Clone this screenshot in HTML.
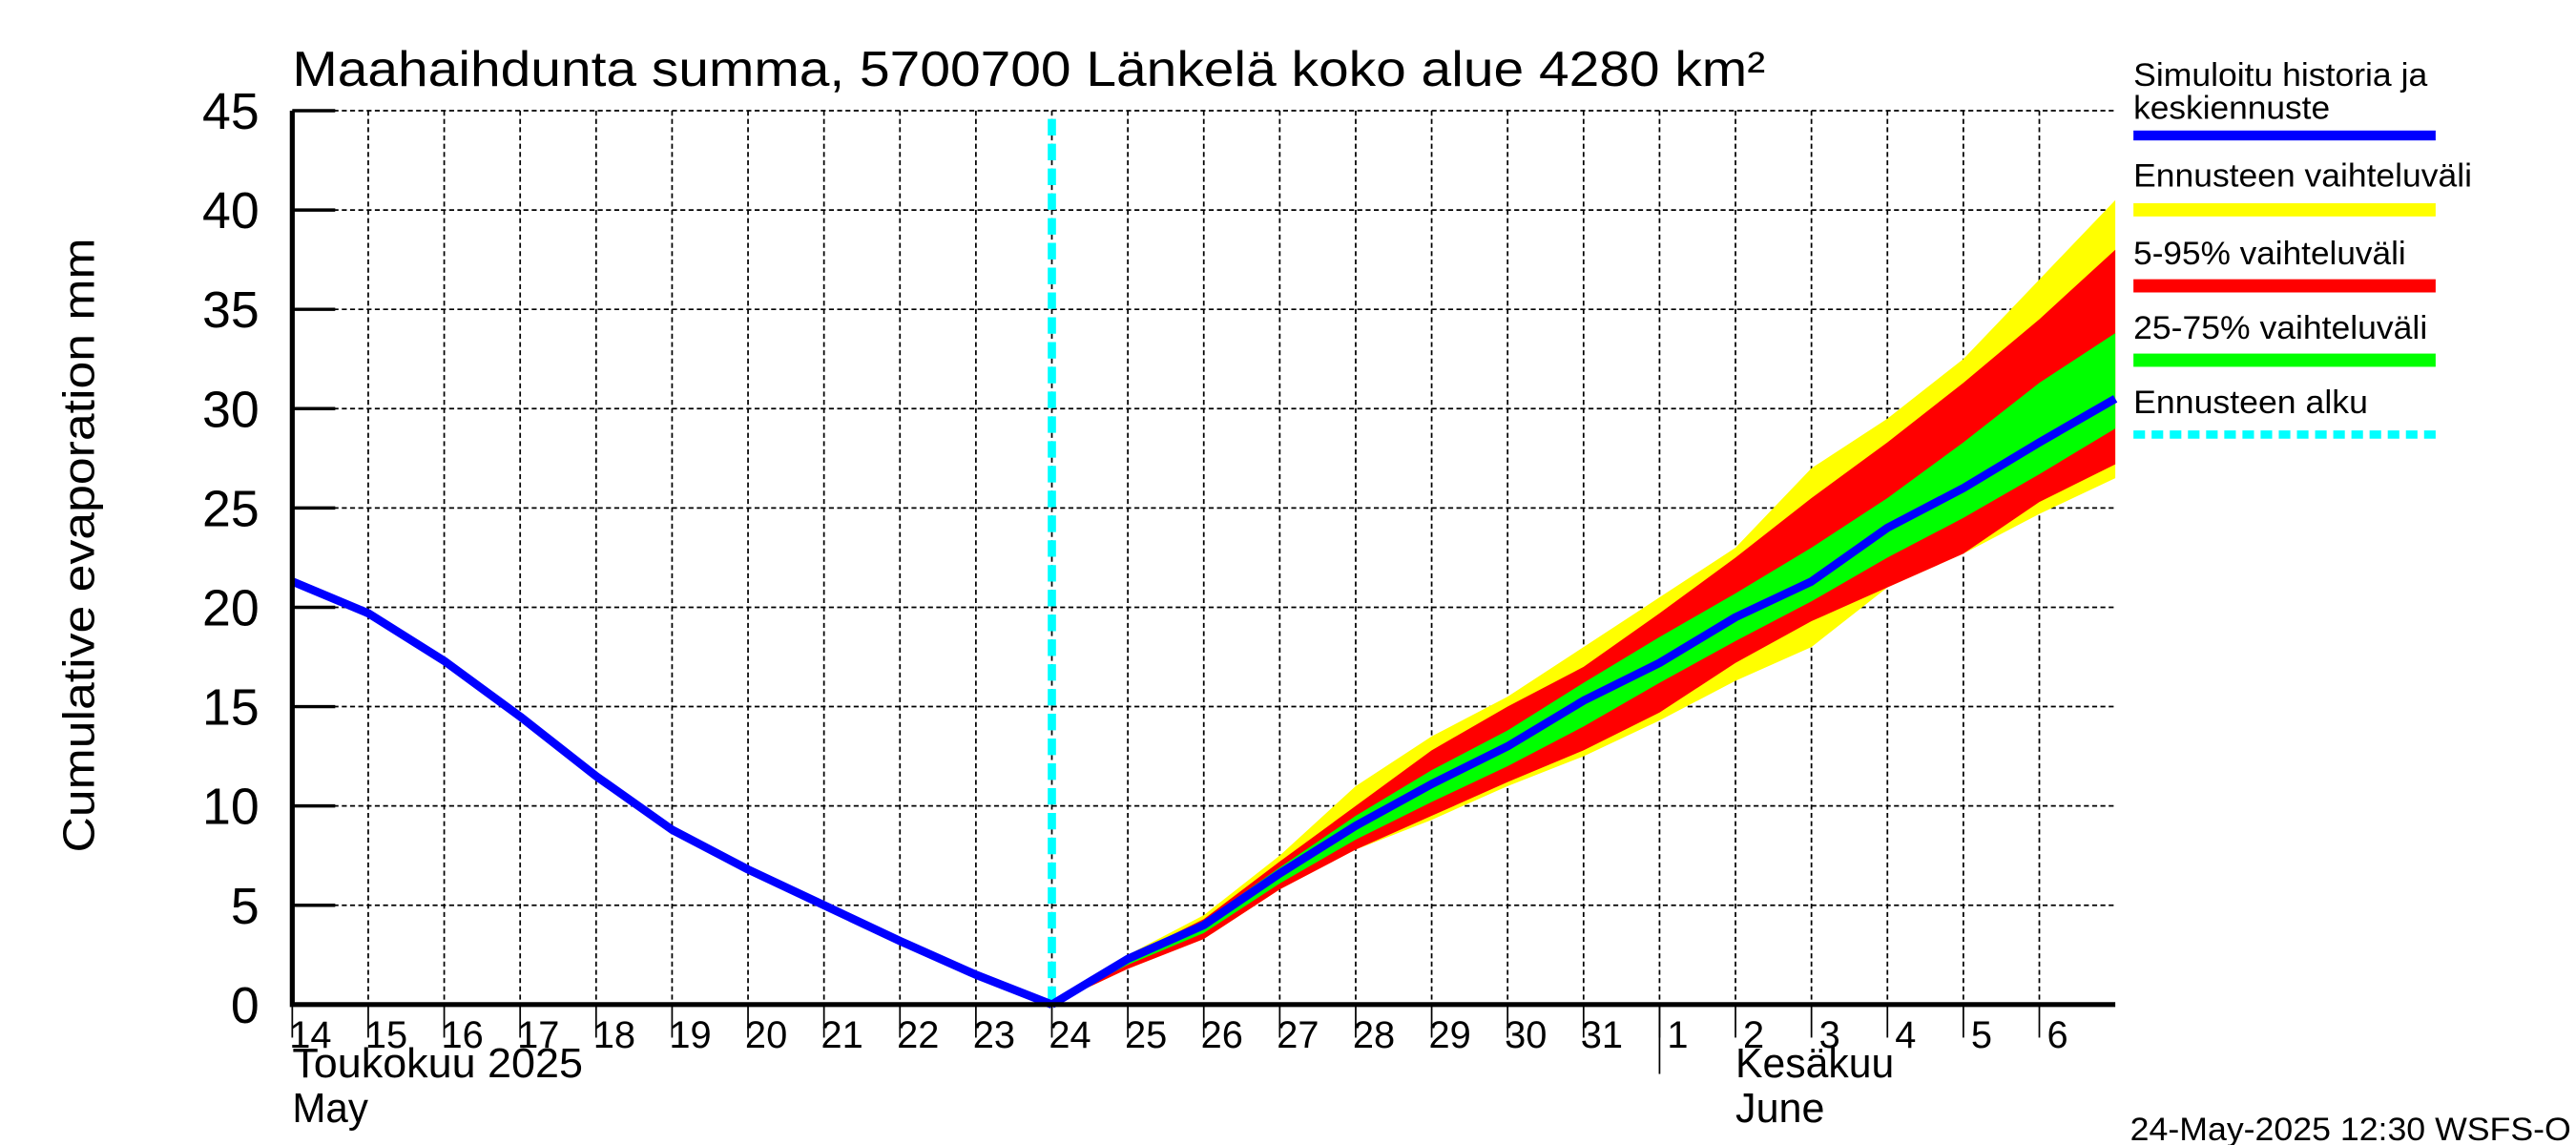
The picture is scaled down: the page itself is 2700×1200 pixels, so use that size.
<!DOCTYPE html>
<html><head><meta charset="utf-8"><style>
html,body{margin:0;padding:0;background:#fff;overflow:hidden}
svg{display:block}
text{font-family:"Liberation Sans",sans-serif;fill:#000}
</style></head><body>
<svg id="chart" width="2700" height="1200" viewBox="0 0 1560 693" preserveAspectRatio="none" xmlns="http://www.w3.org/2000/svg">
<text x="177" y="52" font-size="30" textLength="892" lengthAdjust="spacingAndGlyphs">Maahaihdunta summa, 5700700 Länkelä koko alue 4280 km²</text>
<text transform="translate(57,330) rotate(-90)" text-anchor="middle" font-size="27" textLength="372" lengthAdjust="spacingAndGlyphs">Cumulative evaporation   mm</text>
<g id="grid"></g>
<g id="bands"></g>
<g id="lines"></g>
<g id="axes"></g>
<g>
<text x="1292" y="52" font-size="20" textLength="178" lengthAdjust="spacingAndGlyphs">Simuloitu historia ja</text>
<text x="1292" y="72" font-size="20" textLength="119" lengthAdjust="spacingAndGlyphs">keskiennuste</text>
<rect x="1292" y="79" width="183" height="6" fill="#0000ff"/>
<text x="1292" y="113" font-size="20" textLength="205" lengthAdjust="spacingAndGlyphs">Ennusteen vaihteluväli</text>
<rect x="1292" y="123" width="183" height="8" fill="#ffff00"/>
<text x="1292" y="160" font-size="20" textLength="165" lengthAdjust="spacingAndGlyphs">5-95% vaihteluväli</text>
<rect x="1292" y="169" width="183" height="8" fill="#ff0000"/>
<text x="1292" y="205" font-size="20" textLength="178" lengthAdjust="spacingAndGlyphs">25-75% vaihteluväli</text>
<rect x="1292" y="214" width="183" height="8" fill="#00ff00"/>
<text x="1292" y="250" font-size="20" textLength="142" lengthAdjust="spacingAndGlyphs">Ennusteen alku</text>
<line x1="1292" y1="263" x2="1475" y2="263" stroke="#00ffff" stroke-width="5" stroke-dasharray="7,4"/>
</g>
<text x="1290" y="690" font-size="20" textLength="267" lengthAdjust="spacingAndGlyphs">24-May-2025 12:30 WSFS-O</text>
</svg>
<script>
const dayLabels = ["14","15","16","17","18","19","20","21","22","23","24","25","26","27","28","29","30","31","1","2","3","4","5","6"];
const yTicks = [0,5,10,15,20,25,30,35,40,45];
const histDays = [0,1,2,3,4,5,6,7,8,9,10];
const histValues = [21.3,19.7,17.3,14.5,11.5,8.8,6.8,5.0,3.2,1.5,0];
const fcDays = [10,11,12,13,14,15,16,17,18,19,20,21,22,23,24];
const median = [0,2.3,4.0,6.6,9.0,11.1,13.0,15.3,17.2,19.5,21.3,24.0,26.0,28.3,30.5];
const yellowHi = [0,2.5,4.5,7.5,11.0,13.5,15.5,18.0,20.5,23.0,27.0,29.5,32.5,36.5,40.5];
const yellowLo = [0,1.8,3.3,5.8,7.8,9.3,11.0,12.5,14.3,16.3,18.0,21.0,22.7,24.7,26.5];
const redHi = [0,2.4,4.3,7.2,10.0,12.8,15.0,17.0,19.7,22.5,25.5,28.3,31.3,34.5,38.0];
const redLo = [0,1.8,3.3,5.8,7.8,9.5,11.2,12.8,14.7,17.2,19.3,21.0,22.7,25.3,27.2];
const greenHi = [0,2.5,4.2,6.9,9.5,11.8,13.8,16.2,18.5,20.7,23.0,25.5,28.3,31.3,33.8];
const greenLo = [0,2.0,3.6,6.1,8.3,10.2,12.0,14.0,16.2,18.3,20.3,22.5,24.5,26.7,29.0];
const forecastStartDay = 10;

const NS="http://www.w3.org/2000/svg";
const X0=177,X1=1281,DAYW=46,Y0=608,YTOP=67;
const xs=d=>X0+d*DAYW;
const ys=v=>Y0-v*(Y0-YTOP)/45;
function mk(tag,attrs,parent){const e=document.createElementNS(NS,tag);for(const k in attrs)e.setAttribute(k,attrs[k]);parent.appendChild(e);return e;}
const grid=document.getElementById('grid'),bands=document.getElementById('bands'),lines=document.getElementById('lines'),axes=document.getElementById('axes');

yTicks.forEach(v=>{
  if(v>0){const g=mk('line',{x1:X0,x2:X1,y1:ys(v),y2:ys(v),stroke:'#000','stroke-width':1,'stroke-dasharray':'3,2'},grid);
  
  }
  const t=mk('line',{x1:X0,x2:X0+26,y1:ys(v),y2:ys(v),stroke:'#000','stroke-width':2},axes);
  
  
  const l=mk('text',{x:157,y:ys(v)+11,'text-anchor':'end','font-size':31},axes);
  l.textContent=v;
  
  
});
dayLabels.forEach((lab,d)=>{
  const x=xs(d);
  if(d>0){const g=mk('line',{x1:x,x2:x,y1:YTOP,y2:Y0,stroke:'#000','stroke-width':1,'stroke-dasharray':'3,2'},grid);
  
  }
  const t=mk('line',{x1:x,x2:x,y1:Y0,y2:Y0+20,stroke:'#000','stroke-width':1},axes);
  
  
  const l=mk('text',{x:x+11,y:Y0+26,'text-anchor':'middle','font-size':23},axes);
  l.textContent=lab;
  
  
});
function band(hi,lo,color,name){
  let p=fcDays.map((d,i)=>xs(d)+','+ys(hi[i])).concat(fcDays.map((d,i)=>xs(d)+','+ys(lo[i])).reverse());
  const e=mk('polygon',{points:p.join(' '),fill:color,stroke:'none'},bands);
  
  
}
band(yellowHi,yellowLo,'#ffff00','band-forecast-range');
band(redHi,redLo,'#ff0000','band-5-95');
band(greenHi,greenLo,'#00ff00','band-25-75');
const fs=mk('line',{x1:xs(forecastStartDay),x2:xs(forecastStartDay),y1:YTOP+5,y2:Y0,stroke:'#00ffff','stroke-width':5,'stroke-dasharray':'10,5'},lines);


const hl=mk('polyline',{points:histDays.map((d,i)=>xs(d)+','+ys(histValues[i])).join(' '),fill:'none',stroke:'#0000ff','stroke-width':5,'stroke-linejoin':'round'},lines);


const ml=mk('polyline',{points:fcDays.map((d,i)=>xs(d)+','+ys(median[i])).join(' '),fill:'none',stroke:'#0000ff','stroke-width':5,'stroke-linejoin':'round'},lines);


const ax=mk('polyline',{points:`${X0},${YTOP} ${X0},${Y0} ${X1},${Y0}`,fill:'none',stroke:'#000','stroke-width':3},axes);


const ms=mk('line',{x1:xs(18),x2:xs(18),y1:Y0,y2:650,stroke:'#000','stroke-width':1},axes);


[["Toukokuu  2025",177,652,'month-label-may-fi',176],["May",177,679,'month-label-may-en',46],["Kesäkuu",1051,652,'month-label-june-fi',96],["June",1051,679,'month-label-june-en',54]].forEach(a=>{
  const t=mk('text',{x:a[1],y:a[2],'font-size':25,textLength:a[4],lengthAdjust:'spacingAndGlyphs'},axes);
  t.textContent=a[0];
  
  
});
</script>
</body></html>
